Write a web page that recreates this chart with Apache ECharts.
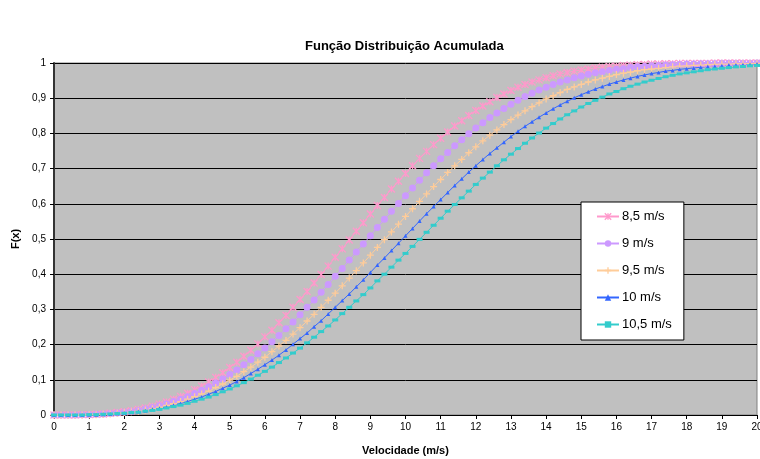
<!DOCTYPE html>
<html>
<head>
<meta charset="utf-8">
<script src="https://cdn.jsdelivr.net/npm/echarts@6/dist/echarts.min.js"></script>
<style>
  html, body { margin: 0; padding: 0; background: #ffffff; }
  #chart { width: 760px; height: 459px; }
</style>
</head>
<body>
<div id="chart"></div>
<script>
// Wind speed (m/s), sampled every 0.2 m/s
const velocidades = [
  0, 0.2, 0.4, 0.6, 0.8, 1, 1.2, 1.4, 1.6, 1.8,
  2, 2.2, 2.4, 2.6, 2.8, 3, 3.2, 3.4, 3.6, 3.8,
  4, 4.2, 4.4, 4.6, 4.8, 5, 5.2, 5.4, 5.6, 5.8,
  6, 6.2, 6.4, 6.6, 6.8, 7, 7.2, 7.4, 7.6, 7.8,
  8, 8.2, 8.4, 8.6, 8.8, 9, 9.2, 9.4, 9.6, 9.8,
  10, 10.2, 10.4, 10.6, 10.8, 11, 11.2, 11.4, 11.6, 11.8,
  12, 12.2, 12.4, 12.6, 12.8, 13, 13.2, 13.4, 13.6, 13.8,
  14, 14.2, 14.4, 14.6, 14.8, 15, 15.2, 15.4, 15.6, 15.8,
  16, 16.2, 16.4, 16.6, 16.8, 17, 17.2, 17.4, 17.6, 17.8,
  18, 18.2, 18.4, 18.6, 18.8, 19, 19.2, 19.4, 19.6, 19.8,
  20
];

// Cumulative distribution F(x) for each mean wind speed
const f_8_5 = [
  0, 0, 0, 0, 0.001, 0.001, 0.002, 0.003, 0.005, 0.007,
  0.009, 0.012, 0.016, 0.020, 0.025, 0.031, 0.037, 0.045, 0.053, 0.062,
  0.072, 0.082, 0.094, 0.107, 0.120, 0.135, 0.150, 0.167, 0.184, 0.202,
  0.222, 0.241, 0.262, 0.283, 0.306, 0.328, 0.351, 0.375, 0.399, 0.423,
  0.448, 0.472, 0.497, 0.522, 0.546, 0.571, 0.595, 0.618, 0.642, 0.664,
  0.686, 0.708, 0.729, 0.749, 0.768, 0.786, 0.804, 0.821, 0.836, 0.851,
  0.865, 0.878, 0.890, 0.902, 0.912, 0.922, 0.931, 0.939, 0.946, 0.952,
  0.958, 0.964, 0.969, 0.973, 0.977, 0.980, 0.983, 0.986, 0.988, 0.990,
  0.991, 0.993, 0.994, 0.995, 0.996, 0.997, 0.997, 0.998, 0.998, 0.999,
  0.999, 0.999, 0.999, 0.999, 1.000, 1.000, 1.000, 1.000, 1.000, 1.000,
  1.000
];
const f_9 = [
  0, 0, 0, 0, 0.001, 0.001, 0.002, 0.003, 0.004, 0.006,
  0.008, 0.010, 0.013, 0.017, 0.021, 0.026, 0.031, 0.038, 0.045, 0.052,
  0.061, 0.070, 0.080, 0.091, 0.102, 0.115, 0.128, 0.143, 0.158, 0.174,
  0.190, 0.208, 0.226, 0.245, 0.264, 0.285, 0.306, 0.327, 0.349, 0.371,
  0.394, 0.416, 0.440, 0.463, 0.486, 0.509, 0.533, 0.556, 0.579, 0.601,
  0.623, 0.645, 0.667, 0.688, 0.708, 0.728, 0.746, 0.765, 0.782, 0.799,
  0.815, 0.830, 0.845, 0.858, 0.871, 0.883, 0.894, 0.905, 0.914, 0.923,
  0.931, 0.939, 0.946, 0.952, 0.958, 0.963, 0.968, 0.972, 0.975, 0.979,
  0.982, 0.984, 0.987, 0.989, 0.990, 0.992, 0.993, 0.994, 0.995, 0.996,
  0.997, 0.997, 0.998, 0.998, 0.998, 0.999, 0.999, 0.999, 0.999, 0.999,
  1.000
];
const f_9_5 = [
  0, 0, 0, 0, 0, 0.001, 0.001, 0.002, 0.003, 0.005,
  0.007, 0.009, 0.011, 0.014, 0.018, 0.022, 0.027, 0.032, 0.038, 0.045,
  0.052, 0.060, 0.068, 0.078, 0.088, 0.099, 0.110, 0.123, 0.136, 0.150,
  0.164, 0.180, 0.196, 0.212, 0.230, 0.248, 0.267, 0.286, 0.306, 0.326,
  0.346, 0.367, 0.389, 0.410, 0.432, 0.454, 0.476, 0.498, 0.520, 0.542,
  0.564, 0.586, 0.607, 0.628, 0.649, 0.669, 0.689, 0.708, 0.726, 0.745,
  0.762, 0.779, 0.795, 0.810, 0.825, 0.839, 0.852, 0.864, 0.876, 0.887,
  0.898, 0.907, 0.916, 0.925, 0.932, 0.939, 0.946, 0.952, 0.957, 0.962,
  0.967, 0.971, 0.974, 0.978, 0.981, 0.983, 0.985, 0.987, 0.989, 0.991,
  0.992, 0.993, 0.994, 0.995, 0.996, 0.997, 0.997, 0.998, 0.998, 0.998,
  0.999
];
const f_10 = [
  0, 0, 0, 0, 0, 0.001, 0.001, 0.002, 0.003, 0.004,
  0.006, 0.008, 0.010, 0.012, 0.016, 0.019, 0.023, 0.028, 0.033, 0.038,
  0.045, 0.051, 0.059, 0.067, 0.076, 0.085, 0.095, 0.106, 0.118, 0.130,
  0.143, 0.156, 0.170, 0.185, 0.201, 0.217, 0.233, 0.251, 0.268, 0.287,
  0.306, 0.325, 0.344, 0.364, 0.384, 0.405, 0.426, 0.446, 0.467, 0.488,
  0.509, 0.530, 0.551, 0.572, 0.592, 0.612, 0.632, 0.652, 0.671, 0.690,
  0.708, 0.726, 0.743, 0.759, 0.775, 0.791, 0.806, 0.820, 0.833, 0.846,
  0.858, 0.870, 0.881, 0.891, 0.901, 0.910, 0.918, 0.926, 0.933, 0.940,
  0.946, 0.952, 0.957, 0.962, 0.966, 0.970, 0.973, 0.977, 0.979, 0.982,
  0.984, 0.986, 0.988, 0.990, 0.991, 0.992, 0.994, 0.994, 0.995, 0.996,
  0.997
];
const f_10_5 = [
  0, 0, 0, 0, 0, 0.001, 0.001, 0.002, 0.003, 0.004,
  0.005, 0.007, 0.008, 0.011, 0.013, 0.016, 0.020, 0.024, 0.028, 0.033,
  0.039, 0.045, 0.051, 0.058, 0.066, 0.074, 0.083, 0.092, 0.102, 0.113,
  0.124, 0.136, 0.149, 0.162, 0.176, 0.190, 0.205, 0.221, 0.237, 0.253,
  0.270, 0.288, 0.306, 0.324, 0.342, 0.361, 0.381, 0.400, 0.420, 0.440,
  0.459, 0.479, 0.499, 0.519, 0.539, 0.559, 0.579, 0.598, 0.617, 0.636,
  0.655, 0.673, 0.690, 0.708, 0.725, 0.741, 0.757, 0.772, 0.787, 0.801,
  0.815, 0.828, 0.841, 0.853, 0.864, 0.875, 0.885, 0.894, 0.903, 0.912,
  0.919, 0.927, 0.934, 0.940, 0.946, 0.951, 0.956, 0.961, 0.965, 0.969,
  0.972, 0.975, 0.978, 0.981, 0.983, 0.985, 0.987, 0.989, 0.990, 0.992,
  0.993
];

const nomesSeries = ['8,5 m/s', '9 m/s', '9,5 m/s', '10 m/s', '10,5 m/s'];
const valoresSeries = [f_8_5, f_9, f_9_5, f_10, f_10_5];

// Per-series colour and marker
const estilos = [
  { color: '#FF99CC', symbol: 'path://M0,0L10,10M10,0L0,10M5,0L5,10', size: 7, stroke: true },
  { color: '#CC99FF', symbol: 'circle', size: 7, stroke: false },
  { color: '#FFCC99', symbol: 'path://M5,0L5,10M0,5L10,5', size: 7, stroke: true },
  { color: '#3366FF', symbol: 'triangle', size: 4, stroke: false },
  { color: '#33CCCC', symbol: 'rect', size: [6, 3], stroke: false }
];

const fonte = 'Arial, "Liberation Sans", sans-serif';

const estiloMarcador = e => e.stroke
  ? { color: e.color, borderColor: e.color, borderWidth: 1.3 }
  : { color: e.color, borderWidth: 0 };

const series = nomesSeries.map((nome, k) => {
  const e = estilos[k];
  return {
    name: nome,
    type: 'line',
    data: velocidades.map((x, i) => [x, valoresSeries[k][i]]),
    symbol: e.symbol,
    symbolSize: e.size,
    showSymbol: true,
    showAllSymbol: true,
    clip: false,
    lineStyle: { color: e.color, width: 1 },
    itemStyle: estiloMarcador(e),
    emphasis: { disabled: true },
    animation: false
  };
});

const itensLegenda = nomesSeries.map((nome, k) => ({
  name: nome,
  itemStyle: estiloMarcador(estilos[k])
}));

const chart = echarts.init(document.getElementById('chart'), null, { renderer: 'canvas' });
chart.setOption({
  animation: false,
  backgroundColor: '#ffffff',
  textStyle: { fontFamily: fonte },
  graphic: [{
    type: 'text',
    left: 405 - 100,
    top: 40,
    style: {
      text: 'Função Distribuição Acumulada',
      font: 'bold 13px ' + fonte,
      fill: '#000000',
      width: 200,
      align: 'center'
    }
  }],
  grid: {
    left: 54, right: 3, top: 63, bottom: 44,
    containLabel: false,
    outerBoundsMode: 'none',
    show: true,
    backgroundColor: '#C0C0C0',
    borderColor: '#808080',
    borderWidth: 1
  },
  legend: {
    orient: 'vertical',
    left: 581,
    top: 202,
    backgroundColor: '#ffffff',
    borderColor: '#000000',
    borderWidth: 1,
    borderRadius: 0,
    padding: [8, 12, 9, 15],
    itemWidth: 22,
    itemHeight: 8,
    itemGap: 14,
    textStyle: { fontSize: 13, color: '#000000', fontFamily: fonte, padding: [0, 0, 0, -2] },
    selectedMode: false,
    data: itensLegenda
  },
  xAxis: {
    type: 'value',
    min: 0, max: 20, interval: 1,
    name: 'Velocidade (m/s)',
    nameLocation: 'middle',
    nameGap: 30,
    nameTextStyle: { fontWeight: 'bold', fontSize: 11, color: '#000000', fontFamily: fonte },
    axisLine: { show: true, onZero: false, lineStyle: { color: '#000000', width: 1 } },
    axisTick: { show: true, length: 4, lineStyle: { color: '#000000' } },
    axisLabel: { fontSize: 10, color: '#000000', margin: 7, fontFamily: fonte },
    splitLine: { show: false }
  },
  yAxis: {
    type: 'value',
    min: 0, max: 1, interval: 0.1,
    name: 'F(x)',
    nameLocation: 'middle',
    nameGap: 32,
    nameTextStyle: { fontWeight: 'bold', fontSize: 11, color: '#000000', fontFamily: fonte },
    axisLine: { show: true, lineStyle: { color: '#333333', width: 2 } },
    axisTick: { show: true, length: 4, lineStyle: { color: '#000000' } },
    axisLabel: {
      fontSize: 10, color: '#000000', margin: 8, fontFamily: fonte,
      formatter: v => String(Math.round(v * 10) / 10).replace('.', ',')
    },
    splitLine: { show: true, lineStyle: { color: '#000000', width: 1 } }
  },
  series: series
});
</script>
</body>
</html>
